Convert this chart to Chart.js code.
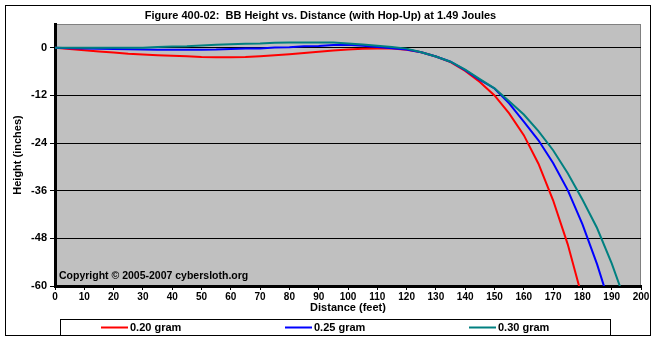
<!DOCTYPE html>
<html>
<head>
<meta charset="utf-8">
<script src="https://cdn.jsdelivr.net/npm/chart.js@4"></script>
<style>
  body { margin: 0; background: #fff; }
  #wrap { width: 657px; height: 340px; }
</style>
</head>
<body>
<div id="wrap"><canvas id="hopupChart" width="657" height="340"></canvas></div>
<script>
// distance in feet, height in inches
const distance = [0, 5, 10, 15, 20, 25, 30, 35, 40, 45, 50, 55, 60, 65, 70, 75, 80, 85, 90, 95,
  100, 105, 110, 115, 120, 125, 130, 135, 140, 145, 150, 155, 160, 165, 170, 175, 180, 185, 190, 195];

const gram020 = [0, -0.3, -0.6, -0.9, -1.2, -1.5, -1.7, -1.85, -2.0, -2.15, -2.3, -2.35, -2.35, -2.3, -2.1, -1.85,
  -1.6, -1.3, -1.0, -0.7, -0.45, -0.25, -0.15, -0.2, -0.5, -1.1, -2.2, -3.6, -5.8, -8.6,
  -12.0, -16.5, -22.0, -29.2, -38.4, -49.5, -63.1, null, null, null];
const gram025 = [0, -0.1, -0.2, -0.25, -0.3, -0.35, -0.45, -0.5, -0.5, -0.5, -0.5, -0.45, -0.3, -0.2, -0.15, 0.1,
  0.15, 0.4, 0.45, 0.7, 0.75, 0.5, 0.2, -0.1, -0.4, -1.1, -2.2, -3.5, -5.6, -8.1,
  -10.25, -14.0, -18.6, -23.3, -29.0, -35.85, -44.4, -54.5, -66.2, null];
const gram030 = [0, 0, 0, 0, 0, 0, 0, 0.2, 0.35, 0.4, 0.6, 0.75, 0.9, 1.0, 1.1, 1.3,
  1.35, 1.35, 1.35, 1.35, 1.1, 0.85, 0.55, 0.2, -0.2, -1.1, -2.2, -3.5, -5.5, -7.9,
  -10.2, -13.45, -16.8, -21.0, -25.8, -31.6, -38.2, -45.4, -54.3, -64.6];

const seriesLabels = ["0.20 gram", "0.25 gram", "0.30 gram"];
const seriesColors = ["#ff0000", "#0000ff", "#008080"];
const yTicks = [-60, -48, -36, -24, -12, 0];

function toPoints(values) {
  return distance.map((d, i) => ({ x: d, y: values[i] }));
}

// grey plot area, outer frame, legend box and copyright note
const decorations = {
  id: "decorations",
  beforeDraw(chart) {
    const { ctx, chartArea: a } = chart;
    ctx.save();
    ctx.fillStyle = "#c0c0c0";
    ctx.fillRect(a.left, a.top, a.right - a.left, a.bottom - a.top);
    ctx.strokeStyle = "#808080";
    ctx.lineWidth = 1;
    ctx.strokeRect(a.left + 0.5, a.top + 0.5, a.right - a.left - 1, a.bottom - a.top);
    ctx.restore();
  },
  afterDraw(chart) {
    const ctx = chart.ctx;
    ctx.save();
    ctx.strokeStyle = "#000";
    ctx.lineWidth = 1;
    ctx.strokeRect(5.5, 5.5, 645, 330);

    // legend
    ctx.fillStyle = "#fff";
    ctx.fillRect(60.5, 319.5, 550, 16);
    ctx.strokeRect(60.5, 319.5, 550, 16);
    const starts = [101, 285, 469];
    ctx.font = "bold 11px Arial";
    ctx.textBaseline = "middle";
    chart.data.datasets.forEach((ds, i) => {
      ctx.strokeStyle = ds.borderColor;
      ctx.lineWidth = 2;
      ctx.beginPath();
      ctx.moveTo(starts[i], 327.5);
      ctx.lineTo(starts[i] + 27, 327.5);
      ctx.stroke();
      ctx.fillStyle = "#000";
      ctx.fillText(ds.label, starts[i] + 29, 327.5);
    });

    ctx.font = "bold 10.5px Arial";
    ctx.textBaseline = "alphabetic";
    ctx.fillText("Copyright \u00a9 2005-2007 cybersloth.org", 59, 279);
    ctx.restore();
  }
};

const ctx = document.getElementById("hopupChart").getContext("2d");
new Chart(ctx, {
  type: "line",
  data: {
    datasets: [
      { label: seriesLabels[0], data: toPoints(gram020), borderColor: seriesColors[0], order: 2 },
      { label: seriesLabels[1], data: toPoints(gram025), borderColor: seriesColors[1], order: 1 },
      { label: seriesLabels[2], data: toPoints(gram030), borderColor: seriesColors[2], order: 0 }
    ]
  },
  options: {
    responsive: false,
    animation: false,
    layout: { padding: { left: 0, right: 16, top: 0, bottom: 25 } },
    elements: {
      line: { borderWidth: 2, tension: 0 },
      point: { radius: 0 }
    },
    datasets: { line: { clip: 0, spanGaps: false } },
    plugins: {
      legend: { display: false },
      tooltip: { enabled: false },
      title: {
        display: true,
        text: "Figure 400-02:  BB Height vs. Distance (with Hop-Up) at 1.49 Joules",
        color: "#000",
        font: { family: "Arial", size: 11, weight: "bold" },
        padding: { top: 9.4, bottom: 1.4 }
      }
    },
    scales: {
      x: {
        type: "linear",
        min: 0,
        max: 200,
        afterFit(scale) {
          scale.height = 29;
        },
        ticks: { stepSize: 10, color: "#000", font: { family: "Arial", size: 10, weight: "bold" }, padding: 1, maxRotation: 0 },
        grid: { drawOnChartArea: false, drawTicks: true, tickLength: 4, color: "#000" },
        border: { display: true, width: 3, color: "#000" },
        title: { display: true, text: "Distance (feet)", color: "#000", font: { family: "Arial", size: 11, weight: "bold" }, padding: 0 }
      },
      y: {
        min: -60,
        max: 6,
        afterBuildTicks(scale) {
          scale.ticks = yTicks.map((v) => ({ value: v }));
        },
        afterFit(scale) {
          scale.width = 55;
        },
        ticks: { color: "#000", font: { family: "Arial", size: 11, weight: "bold" }, padding: 3 },
        grid: { color: "#000", lineWidth: 1, tickLength: 5 },
        border: { display: true, width: 3, color: "#000" },
        title: { display: true, text: "Height (inches)", color: "#000", font: { family: "Arial", size: 11, weight: "bold" }, padding: { top: 11 } }
      }
    }
  },
  plugins: [decorations]
});
</script>
</body>
</html>
